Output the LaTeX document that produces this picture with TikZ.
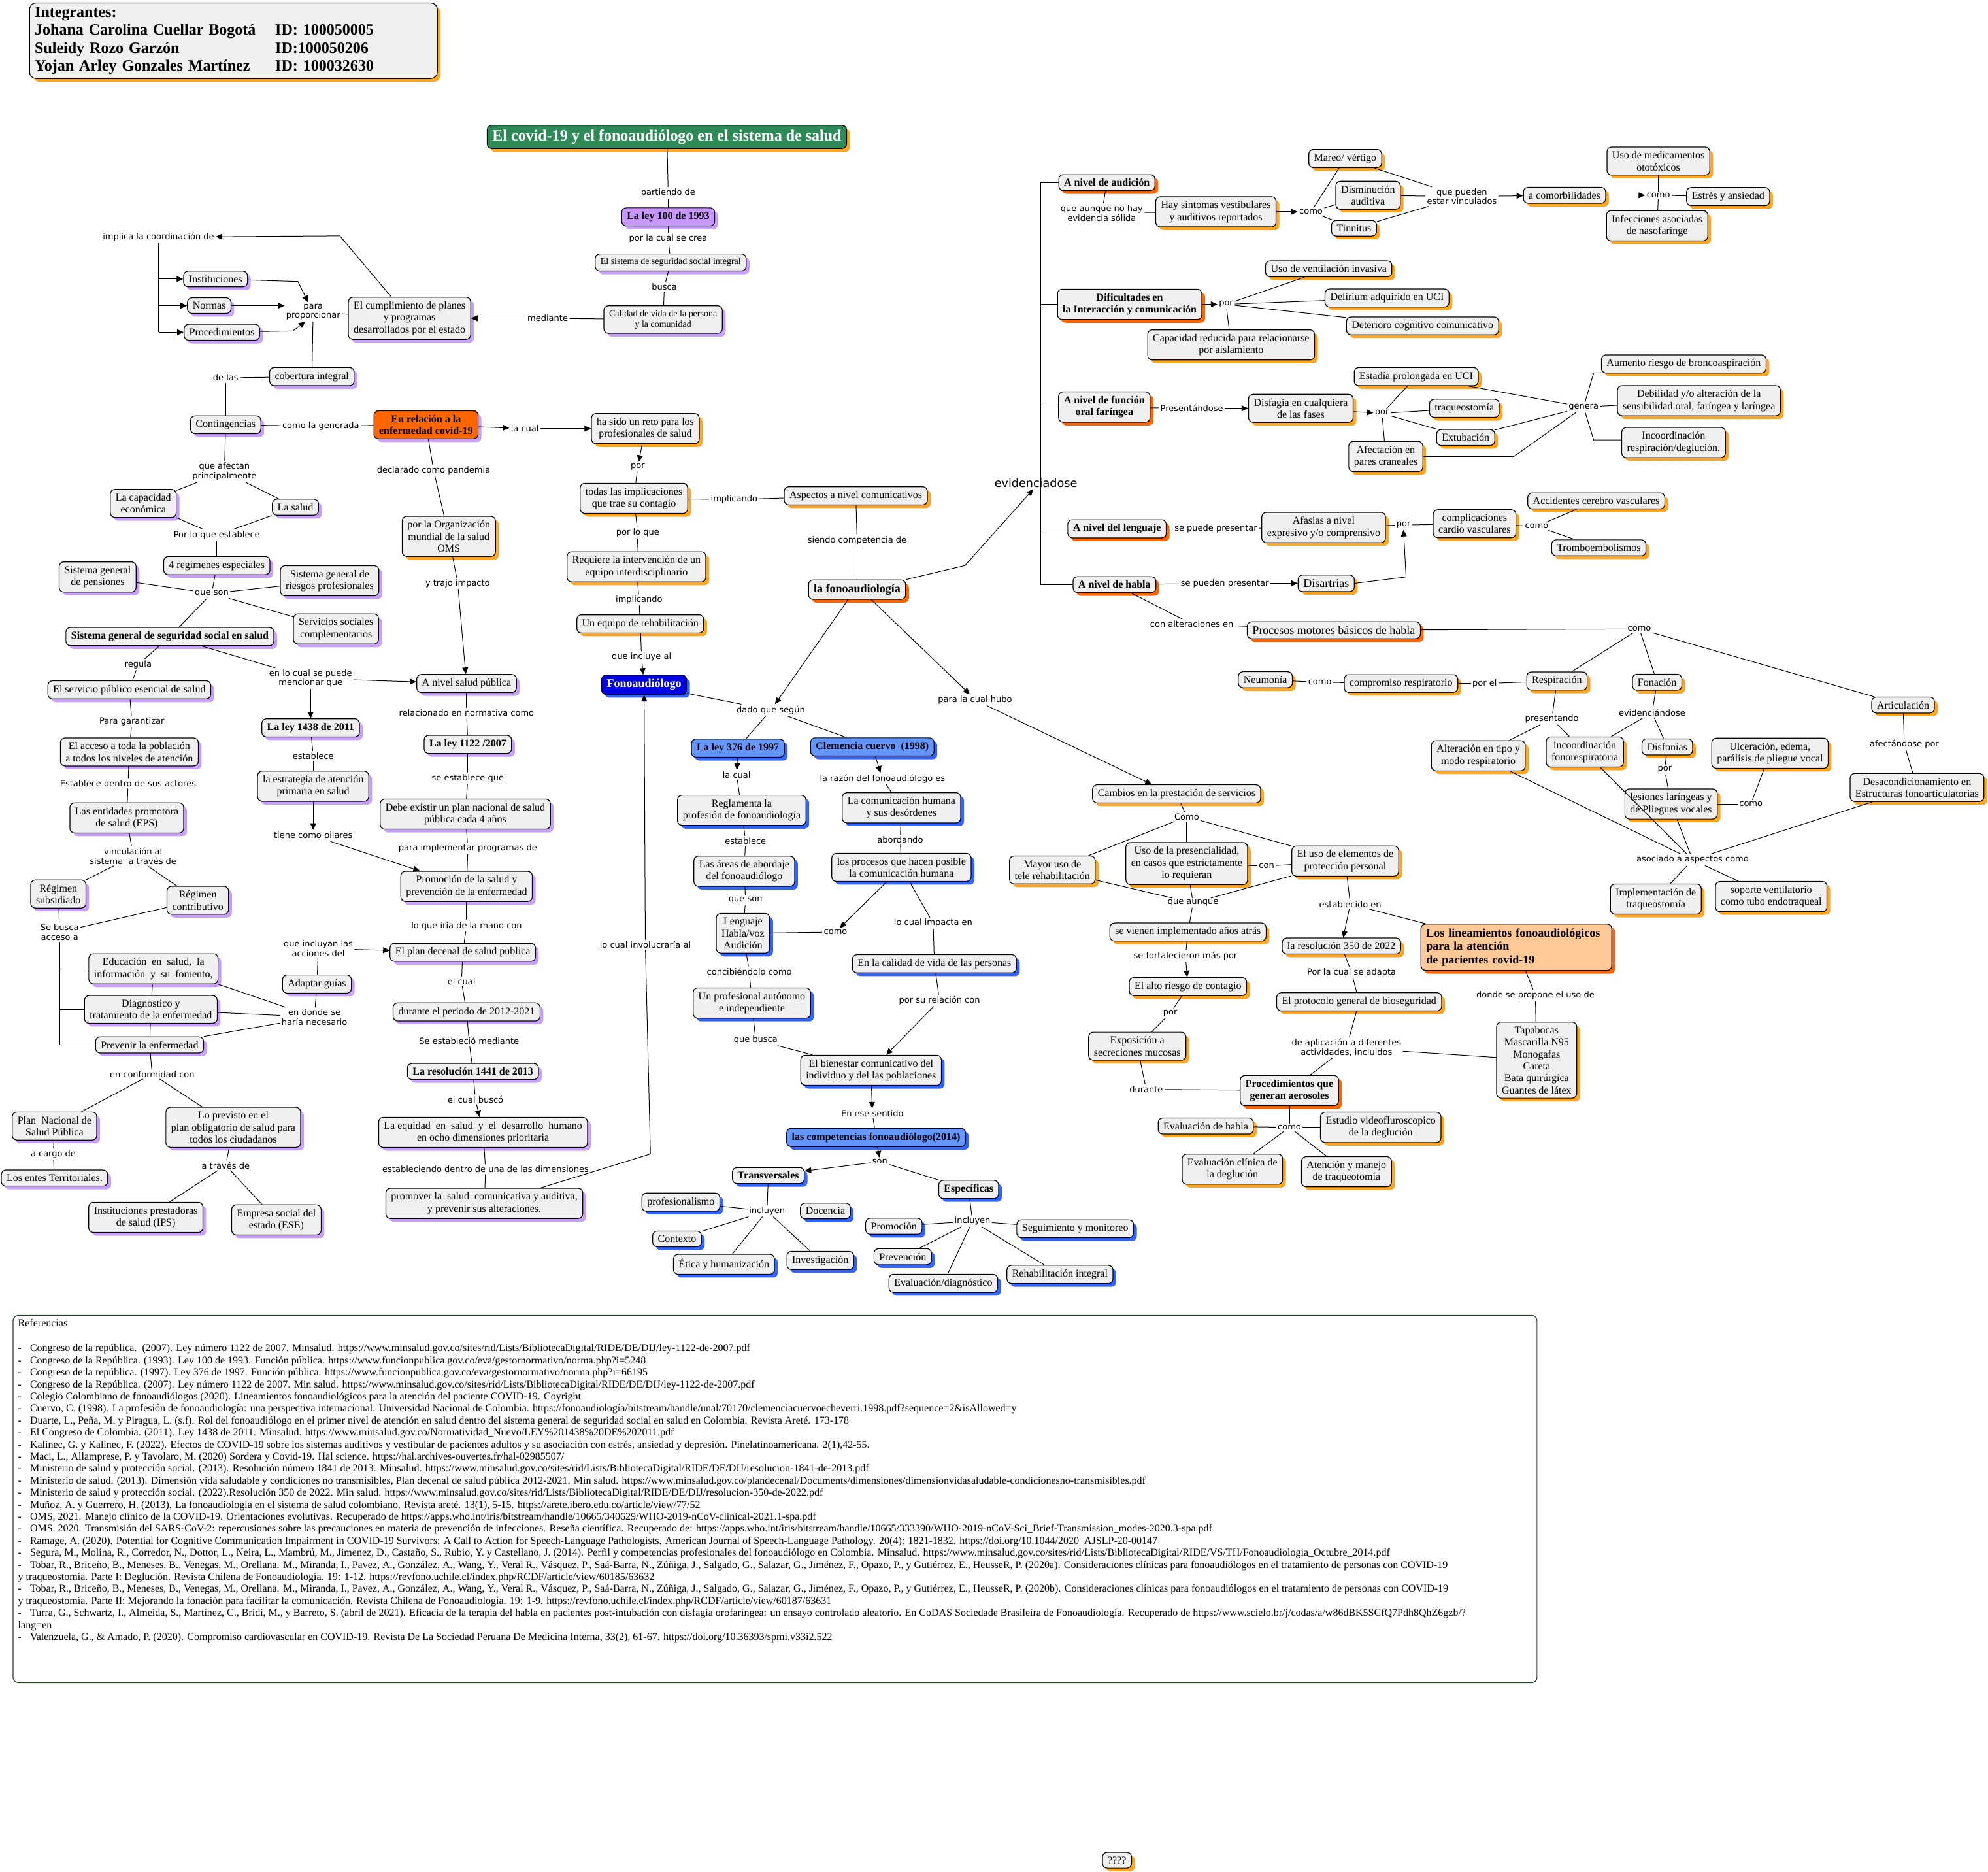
\documentclass[tikz,border=0pt]{standalone}
\usepackage{fontspec}
\setmainfont{Liberation Serif}
\newfontfamily\labfont{DejaVu Sans}
\usetikzlibrary{arrows.meta,shadows}

\definecolor{cfill}{RGB}{240,240,240}
\definecolor{shpurple}{RGB}{200,160,250}
\definecolor{shorange}{RGB}{255,165,30}
\definecolor{shdark}{RGB}{255,100,0}
\definecolor{shblue}{RGB}{50,100,255}
\definecolor{titlegreen}{RGB}{46,139,87}
\definecolor{leyviolet}{RGB}{200,150,255}
\definecolor{covidorange}{RGB}{255,102,0}
\definecolor{fonoblue}{RGB}{0,0,230}
\definecolor{lightblue}{RGB}{100,150,255}
\definecolor{peach}{RGB}{255,200,150}
\definecolor{refgreen}{RGB}{40,70,40}

\tikzset{
  concept/.style={draw, rounded corners=3.5pt, fill=cfill, align=center, line width=0.6pt,
    inner xsep=4pt, inner ysep=3.3pt, font=\fontsize{8}{9.2}\selectfont},
  pc/.style={concept, general shadow={fill=shpurple, shadow xshift=2.5pt, shadow yshift=-2.5pt}},
  oc/.style={concept, general shadow={fill=shorange, shadow xshift=2.5pt, shadow yshift=-2.5pt}},
  dc/.style={concept, general shadow={fill=shdark, shadow xshift=2.5pt, shadow yshift=-2.5pt}},
  bc/.style={concept, general shadow={fill=shblue, shadow xshift=2.5pt, shadow yshift=-2.5pt}},
  hb/.style={font=\fontsize{8}{9.2}\selectfont\bfseries},
  sm/.style={font=\fontsize{7}{8.2}\selectfont},
  big/.style={font=\fontsize{9}{10.3}\selectfont},
  lab/.style={font=\labfont\fontsize{6.5}{7.4}\selectfont, align=center, inner sep=1pt},
  arr/.style={-{Triangle[length=5pt,width=4.5pt]}}
}

\begin{document}
\begin{tikzpicture}[x=0.9701pt, y=-0.9701pt, line width=0.5pt]
\useasboundingbox (0,0) rectangle (1568,1476);

\node[oc, anchor=north west, align=left, text width=304pt, rounded corners=5pt, font=\fontsize{12}{13.6}\selectfont\bfseries] (team) at (23,2)
  {Integrantes:\\
   \makebox[184pt][l]{Johana Carolina Cuellar Bogotá}ID: 100050005\\
   \makebox[184pt][l]{Suleidy Rozo Garzón}ID:100050206\\
   \makebox[184pt][l]{Yojan Arley Gonzales Martínez}ID: 100032630};

\node[oc, fill=titlegreen, text=white, font=\fontsize{12}{14}\selectfont\bfseries] (title) at (526,108) {El covid-19 y el fonoaudiólogo en el sistema de salud};

% left column
\node[pc, hb, fill=leyviolet] (ley100) at (527,171) {La ley 100 de 1993};
\node[pc, sm] (sssi) at (529,207) {El sistema de seguridad social integral};
\node[pc, sm] (calidad) at (523,252) {Calidad de vida de la persona\\y la comunidad};
\node[pc] (cumpl) at (323,251) {El cumplimiento de planes\\y programas\\desarrollados por el estado};
\node[pc] (inst) at (170,220) {Instituciones};
\node[pc] (normas) at (165,241) {Normas};
\node[pc] (proc) at (175,262) {Procedimientos};
\node[pc] (cob) at (246,297) {cobertura integral};
\node[pc] (cont) at (178,335) {Contingencias};
\node[pc, hb, fill=covidorange] (enrel) at (336,335) {En relación a la\\enfermedad covid-19};
\node[pc] (capec) at (113,397) {La capacidad\\económica};
\node[pc] (saludn) at (233,400) {La salud};
\node[pc] (reg4) at (171,446) {4 regímenes especiales};
\node[pc] (pens) at (77,455) {Sistema general\\de pensiones};
\node[pc] (riesg) at (260,458) {Sistema general de\\riesgos profesionales};
\node[pc] (serv) at (265,496) {Servicios sociales\\complementarios};
\node[pc, hb] (sgsss) at (134,502) {Sistema general de seguridad social en salud};
\node[pc] (servpub) at (102,544) {El servicio público esencial de salud};
\node[pc] (acceso) at (102,593) {El acceso a toda la población\\a todos los niveles de atención};
\node[pc] (eps) at (100,645) {Las entidades promotora\\de salud (EPS)};
\node[pc] (regsub) at (46,705) {Régimen\\subsidiado};
\node[pc] (regcon) at (156,710) {Régimen\\contributivo};
\node[pc] (edu) at (121,764) {Educación\ \ en\ \ salud,\ \ la\\información\ \ y\ \ su\ \ fomento,};
\node[pc] (diag) at (119,796) {Diagnostico y\\tratamiento de la enfermedad};
\node[pc] (prev) at (118,824) {Prevenir la enfermedad};
\node[pc] (plannac) at (43,888) {Plan\ \ Nacional de\\Salud Pública};
\node[pc] (loprev) at (184,889) {Lo previsto en el\\plan obligatorio de salud para\\todos los ciudadanos};
\node[pc] (entes) at (43,929) {Los entes Territoriales.};
\node[pc] (ips) at (115,960) {Instituciones prestadoras\\de salud (IPS)};
\node[pc] (ese) at (218,962) {Empresa social del\\estado (ESE)};
\node[oc] (oms) at (354,423) {por la Organización\\mundial de la salud\\OMS};
\node[pc] (anivel) at (368,539) {A nivel salud pública};
\node[pc, hb] (ley1438) at (245,574) {La ley 1438 de 2011};
\node[pc] (estrat) at (247,620) {la estrategia de atención\\primaria en salud};
\node[pc, hb] (ley1122) at (369,587) {La ley 1122 /2007};
\node[pc] (debe) at (367,642) {Debe existir un plan nacional de salud\\pública cada 4 años};
\node[pc] (promo) at (368,699) {Promoción de la salud y\\prevención de la enfermedad};
\node[pc] (plandec) at (365,751) {El plan decenal de salud publica};
\node[pc] (adapt) at (250,776) {Adaptar guías};
\node[pc] (periodo) at (368,798) {durante el periodo de 2012-2021};
\node[pc, hb] (res1441) at (373,845) {La resolución 1441 de 2013};
\node[pc] (equidad) at (381,893) {La equidad\ \ en\ \ salud\ \ y\ \ el\ \ desarrollo\ \ humano\\en ocho dimensiones prioritaria};
\node[pc] (promover) at (382,949) {promover la\ \ salud\ \ comunicativa y auditiva,\\y prevenir sus alteraciones.};

% center column
\node[oc] (reto) at (509,338) {ha sido un reto para los\\profesionales de salud};
\node[oc] (implic) at (500,393) {todas las implicaciones\\que trae su contagio};
\node[oc] (aspectos) at (675,391) {Aspectos a nivel comunicativos};
\node[oc] (requiere) at (502,447) {Requiere la intervención de un\\equipo interdisciplinario};
\node[oc] (equipo) at (505,492) {Un equipo de rehabilitación};
\node[bc, fill=fonoblue, text=white, font=\fontsize{9}{10.3}\selectfont\bfseries] (fono) at (508,540) {Fonoaudiólogo};
\node[dc, font=\fontsize{9}{10.3}\selectfont\bfseries] (fonologia) at (676,465) {la fonoaudiología};
\node[bc, hb, fill=lightblue] (ley376) at (582,590) {La ley 376 de 1997};
\node[bc, hb, fill=lightblue] (clemencia) at (688,589) {Clemencia cuervo\ \ (1998)};
\node[bc] (reglam) at (585,639) {Reglamenta la\\profesión de fonoaudiología};
\node[bc] (comhum) at (711,637) {La comunicación humana\\y sus desórdenes};
\node[bc] (areas) at (587,687) {Las áreas de abordaje\\del fonoaudiólogo};
\node[bc] (procesos) at (711,684) {los procesos que hacen posible\\la comunicación humana};
\node[bc] (lenghab) at (586,736) {Lenguaje\\Habla/voz\\Audición};
\node[bc] (calvida) at (737,760) {En la calidad de vida de las personas};
\node[bc] (profaut) at (593,791) {Un profesional autónomo\\e independiente};
\node[bc] (bienestar) at (687,844) {El bienestar comunicativo del\\individuo y del las poblaciones};
\node[bc, hb, fill=lightblue] (compet) at (691,897) {las competencias fonoaudiólogo(2014)};
\node[bc, hb] (transv) at (606,927) {Transversales};
\node[bc, hb] (espec) at (764,938) {Específicas};
\node[bc] (profes) at (537,948) {profesionalismo};
\node[bc] (docencia) at (651,955) {Docencia};
\node[bc] (contexto) at (534,977) {Contexto};
\node[bc] (etica) at (571,997) {Ética y humanización};
\node[bc] (invest) at (647,994) {Investigación};
\node[bc] (promoc) at (705,967) {Promoción};
\node[bc] (prevenc) at (712,991) {Prevención};
\node[bc] (evaldiag) at (744,1012) {Evaluación/diagnóstico};
\node[bc] (seguim) at (848,969) {Seguimiento y monitoreo};
\node[bc] (rehab) at (836,1005) {Rehabilitación integral};

% right column
\node[dc, hb] (audic) at (873,144) {A nivel de audición};
\node[oc] (haysint) at (959,167) {Hay síntomas vestibulares\\y auditivos reportados};
\node[oc] (mareo) at (1061,125) {Mareo/ vértigo};
\node[oc] (dismin) at (1079,154) {Disminución\\auditiva};
\node[oc] (tinnitus) at (1068,180) {Tinnitus};
\node[oc] (comorb) at (1234,154) {a comorbilidades};
\node[oc] (medic) at (1308,127) {Uso de medicamentos\\ototóxicos};
\node[oc] (estres) at (1363,155) {Estrés y ansiedad};
\node[oc] (infec) at (1307,178) {Infecciones asociadas\\de nasofaringe};
\node[dc, hb] (dific) at (891,240) {Dificultades en\\la Interacción y comunicación};
\node[oc] (vent) at (1048,212) {Uso de ventilación invasiva};
\node[oc] (delir) at (1094,235) {Delirium adquirido en UCI};
\node[oc] (deter) at (1122,257) {Deterioro cognitivo comunicativo};
\node[oc] (capred) at (971,272) {Capacidad reducida para relacionarse\\por aislamiento};
\node[dc, hb] (funcion) at (871,321) {A nivel de función\\oral faríngea};
\node[oc] (disfagia) at (1026,322) {Disfagia en cualquiera\\de las fases};
\node[oc] (estadia) at (1117,297) {Estadía prolongada en UCI};
\node[oc] (traq) at (1155,322) {traqueostomía};
\node[oc] (extub) at (1156,345) {Extubación};
\node[oc] (afect) at (1093,360) {Afectación en\\pares craneales};
\node[oc] (aument) at (1328,287) {Aumento riesgo de broncoaspiración};
\node[oc] (debil) at (1340,316) {Debilidad y/o alteración de la\\sensibilidad oral, faríngea y laríngea};
\node[oc] (incoord) at (1320,349) {Incoordinación\\respiración/deglución.};
\node[dc, hb] (leng) at (881,417) {A nivel del lenguaje};
\node[oc] (afasias) at (1044,416) {Afasias a nivel\\expresivo y/o comprensivo};
\node[oc] (complic) at (1163,413) {complicaciones\\cardio vasculares};
\node[oc] (acv) at (1259,395) {Accidentes cerebro vasculares};
\node[oc] (trombo) at (1261,432) {Tromboembolismos};
\node[dc, hb] (habla) at (879,461) {A nivel de habla};
\node[oc, big] (disart) at (1046,460) {Disartrias};
\node[dc, big] (procmot) at (1052,497) {Procesos motores básicos de habla};
\node[oc] (resp) at (1228,537) {Respiración};
\node[oc] (fonac) at (1307,538) {Fonación};
\node[oc] (artic) at (1501,556) {Articulación};
\node[oc] (comprresp) at (1105,539) {compromiso respiratorio};
\node[oc] (neumo) at (998,536) {Neumonía};
\node[oc] (alttipo) at (1166,596) {Alteración en tipo y\\modo respiratorio};
\node[oc] (incfon) at (1250,593) {incoordinación\\fonorespiratoria};
\node[oc] (disfon) at (1315,589) {Disfonías};
\node[oc] (ulcer) at (1396,594) {Ulceración, edema,\\parálisis de pliegue vocal};
\node[oc] (desacond) at (1512,621) {Desacondicionamiento en\\Estructuras fonoarticulatorias};
\node[oc] (lesiones) at (1318,634) {lesiones laríngeas y\\de Pliegues vocales};
\node[oc] (impltraq) at (1306,709) {Implementación de\\traqueostomía};
\node[oc] (soporte) at (1397,707) {soporte ventilatorio\\como tubo endotraqueal};
\node[oc] (cambios) at (928,626) {Cambios en la prestación de servicios};
\node[oc] (mayor) at (830,686) {Mayor uso de\\tele rehabilitación};
\node[oc] (presenc) at (936,681) {Uso de la presencialidad,\\en casos que estrictamente\\lo requieran};
\node[oc] (epp) at (1061,679) {El uso de elementos de\\protección personal};
\node[oc] (vienen) at (937,735) {se vienen implementado años atrás};
\node[oc] (altoriesgo) at (937,778) {El alto riesgo de contagio};
\node[oc] (expos) at (897,825) {Exposición a\\secreciones mucosas};
\node[dc, hb] (procaer) at (1017,860) {Procedimientos que\\generan aerosoles};
\node[oc] (evalhab) at (951,888) {Evaluación de habla};
\node[oc] (estudio) at (1089,889) {Estudio videofluroscopico\\de la deglución};
\node[oc] (evalclin) at (972,922) {Evaluación clínica de\\la deglución};
\node[oc] (atenc) at (1062,924) {Atención y manejo\\de traqueotomía};
\node[oc] (res350) at (1058,746) {la resolución 350 de 2022};
\node[oc] (protocolo) at (1072,790) {El protocolo general de bioseguridad};
\node[dc, fill=peach, align=left, text width=138pt, font=\fontsize{9}{10.3}\selectfont\bfseries] (lineam) at (1196,747) {Los lineamientos fonoaudiológicos\\para la atención\\de pacientes covid-19};
\node[oc] (tapabocas) at (1212,836) {Tapabocas\\Mascarilla N95\\Monogafas\\Careta\\Bata quirúrgica\\Guantes de látex};
\node[oc] (qmarks) at (881,1467) {????};

% link labels
\node[lab] (lPart) at (527,152) {partiendo de};
\node[lab] (lCrea) at (527,188) {por la cual se crea};
\node[lab] (lBusca) at (524,226) {busca};
\node[lab] (lMediante) at (432,251) {mediante};
\node[lab] (lImplica) at (125,187) {implica la coordinación de};
\node[lab] (lPara) at (247,246) {para\\proporcionar};
\node[lab] (lDeLas) at (178,298) {de las};
\node[lab] (lGenerada) at (253,336) {como la generada};
\node[lab] (lLaCual) at (414,338) {la cual};
\node[lab] (lAfectan) at (177,372) {que afectan\\principalmente};
\node[lab] (lEstablece) at (171,422) {Por lo que establece};
\node[lab] (lQueSon) at (167,468) {que son};
\node[lab] (lPandemia) at (342,371) {declarado como pandemia};
\node[lab] (lImpacto) at (361,460) {y trajo impacto};
\node[lab] (lRegula) at (109,524) {regula};
\node[lab] (lMencionar) at (245,535) {en lo cual se puede\\mencionar que};
\node[lab] (lGarant) at (104,569) {Para garantizar};
\node[lab] (lActores) at (101,618) {Establece dentro de sus actores};
\node[lab] (lVincul) at (105,675) {vinculación al\\sistema\ \ a través de};
\node[lab] (lBusca2) at (47,735) {Se busca\\acceso a};
\node[lab] (lDonde) at (248,802) {en donde se\\haría necesario};
\node[lab] (lIncluyan) at (251,748) {que incluyan las\\acciones del};
\node[lab] (lConform) at (120,847) {en conformidad con};
\node[lab] (lCargo) at (42,910) {a cargo de};
\node[lab] (lTraves) at (178,919) {a través de};
\node[lab] (lRelac) at (368,562) {relacionado en normativa como};
\node[lab] (lEstQue) at (369,614) {se establece que};
\node[lab] (lEstab2) at (247,596) {establece};
\node[lab] (lPilares) at (247,659) {tiene como pilares};
\node[lab] (lImplProg) at (369,669) {para implementar programas de};
\node[lab] (lMano) at (368,730) {lo que iría de la mano con};
\node[lab] (lElCual) at (364,774) {el cual};
\node[lab] (lMediante2) at (370,821) {Se estableció mediante};
\node[lab] (lBusco) at (375,867) {el cual buscó};
\node[lab] (lDimens) at (383,922) {estableciendo dentro de una de las dimensiones};
\node[lab] (lInvol) at (509,745) {lo cual involucraría al};
\node[lab] (lPor) at (503,368) {por};
\node[lab] (lImplicando) at (579,394) {implicando};
\node[lab] (lPorLoQue) at (503,420) {por lo que};
\node[lab] (lImplicando2) at (504,473) {implicando};
\node[lab] (lIncluye) at (506,518) {que incluye al};
\node[lab] (lCompet) at (676,426) {siendo competencia de};
\node[lab, font=\labfont\fontsize{8.8}{9.4}\selectfont] (lEvid) at (817,381) {evidenciadose};
\node[lab] (lDado) at (608,560) {dado que según};
\node[lab] (lHubo) at (769,552) {para la cual hubo};
\node[lab] (lLaCual2) at (581,611) {la cual};
\node[lab] (lRazon) at (696,614) {la razón del fonoaudiólogo es};
\node[lab] (lEstab3) at (588,663) {establece};
\node[lab] (lAbord) at (710,662) {abordando};
\node[lab] (lQueSon2) at (588,710) {que son};
\node[lab] (lComoL) at (659,735) {como};
\node[lab] (lImpacta) at (736,728) {lo cual impacta en};
\node[lab] (lConcib) at (591,766) {concibiéndolo como};
\node[lab] (lRelacion) at (741,789) {por su relación con};
\node[lab] (lBusca3) at (596,820) {que busca};
\node[lab] (lSentido) at (688,878) {En ese sentido};
\node[lab] (lSon) at (694,916) {son};
\node[lab] (lIncl1) at (605,955) {incluyen};
\node[lab] (lIncl2) at (767,963) {incluyen};
\node[lab] (lAunque) at (869,168) {que aunque no hay\\evidencia sólida};
\node[lab] (lComo1) at (1034,167) {como};
\node[lab] (lVinc) at (1153,155) {que pueden\\estar vinculados};
\node[lab] (lComo2) at (1308,154) {como};
\node[lab] (lPor1) at (967,240) {por};
\node[lab] (lPres) at (940,322) {Presentándose};
\node[lab] (lPor2) at (1090,326) {por};
\node[lab] (lGenera) at (1249,321) {genera};
\node[lab] (lPuede) at (959,417) {se puede presentar};
\node[lab] (lPor3) at (1107,414) {por};
\node[lab] (lComo3) at (1212,415) {como};
\node[lab] (lPueden) at (966,460) {se pueden presentar};
\node[lab] (lAlter) at (940,492) {con alteraciones en};
\node[lab] (lComo4) at (1293,496) {como};
\node[lab] (lPorEl) at (1171,539) {por el};
\node[lab] (lComo5) at (1041,538) {como};
\node[lab] (lPresentando) at (1224,567) {presentando};
\node[lab] (lEvidenc) at (1303,562) {evidenciándose};
\node[lab] (lAfectandose) at (1502,587) {afectándose por};
\node[lab] (lPor4) at (1313,607) {por};
\node[lab] (lComo6) at (1381,634) {como};
\node[lab] (lAsociado) at (1335,678) {asociado a aspectos como};
\node[lab] (lComoC) at (936,644) {Como};
\node[lab] (lCon) at (999,683) {con};
\node[lab] (lAunque2) at (941,712) {que aunque};
\node[lab] (lFortal) at (935,754) {se fortalecieron más por};
\node[lab] (lPor5) at (923,799) {por};
\node[lab] (lDurante) at (904,859) {durante};
\node[lab] (lEstablecido) at (1065,713) {establecido en};
\node[lab] (lAdapta) at (1066,767) {Por la cual se adapta};
\node[lab] (lAplic) at (1062,826) {de aplicación a diferentes\\actividades, incluidos};
\node[lab] (lPropone) at (1211,785) {donde se propone el uso de};
\node[lab] (lComo7) at (1017,889) {como};

\coordinate (cImp) at (268,186);
\coordinate (cInst) at (235,222);
\coordinate (cProc) at (231,261);
\coordinate (cInv) at (513,910);
\coordinate (cEvid) at (761,446);
\coordinate (cDis) at (1109,455);
\coordinate (cAfect) at (1194,360);
\coordinate (cGenA) at (1257,294);
\coordinate (cGenI) at (1257,347);
\coordinate (cTrunkTop) at (821,144);
\coordinate (cTrunkBot) at (821,461);

% connectors, left
\draw (title) -- (lPart); \draw (lPart) -- (ley100);
\draw (ley100) -- (lCrea); \draw (lCrea) -- (sssi);
\draw (sssi) -- (lBusca); \draw (lBusca) -- (calidad);
\draw (calidad) -- (lMediante); \draw[arr] (lMediante) -- (cumpl);
\draw[arr] ([xshift=-14pt]cumpl.north) -- (cImp) -- (lImplica);
\draw (lImplica) -- (lImplica |- proc);
\draw[arr] (lImplica |- inst) -- (inst);
\draw[arr] (lImplica |- normas) -- (normas);
\draw[arr] (lImplica |- proc) -- (proc);
\draw[arr] (inst) -- (cInst) -- ([xshift=-4pt]lPara.north);
\draw[arr] (normas) -- (normas -| lPara.west);
\draw[arr] (proc) -- (cProc) -- ([xshift=-6pt]lPara.south);
\draw (lPara) -- (cumpl);
\draw (lPara) -- (cob);
\draw (cob) -- (lDeLas); \draw (lDeLas) -- (cont);
\draw (cont) -- (lGenerada); \draw (lGenerada) -- (enrel);
\draw[arr] (enrel) -- (lLaCual); \draw[arr] (lLaCual) -- (reto);
\draw (enrel) -- (lPandemia); \draw (lPandemia) -- (oms);
\draw (oms) -- (lImpacto); \draw[arr] (lImpacto) -- (anivel);
\draw (cont) -- (lAfectan); \draw (lAfectan) -- (capec); \draw (lAfectan) -- (saludn);
\draw (capec) -- (lEstablece); \draw (saludn) -- (lEstablece); \draw (lEstablece) -- (reg4);
\draw (reg4) -- (lQueSon);
\draw (lQueSon) -- (pens); \draw (lQueSon) -- (riesg); \draw (lQueSon) -- (serv); \draw (lQueSon) -- (sgsss);
\draw (sgsss) -- (lRegula); \draw (lRegula) -- (servpub);
\draw (sgsss) -- (lMencionar); \draw[arr] (lMencionar) -- (anivel); \draw[arr] (lMencionar) -- (ley1438);
\draw (servpub) -- (lGarant); \draw (lGarant) -- (acceso);
\draw (acceso) -- (lActores); \draw (lActores) -- (eps);
\draw (eps) -- (lVincul); \draw (lVincul) -- (regsub); \draw (lVincul) -- (regcon);
\draw (regsub) -- (lBusca2); \draw (regcon) -- (lBusca2);
\draw (lBusca2) -- (lBusca2 |- prev) -- (prev);
\draw (lBusca2 |- edu) -- (edu);
\draw (lBusca2 |- diag) -- (diag);
\draw (edu) -- (diag); \draw (diag) -- (prev);
\draw (prev) -- (lConform); \draw (lConform) -- (plannac); \draw (lConform) -- (loprev);
\draw (plannac) -- (lCargo); \draw (lCargo) -- (entes);
\draw (loprev) -- (lTraves); \draw (lTraves) -- (ips); \draw (lTraves) -- (ese);
\draw (lDonde) -- (edu.south east); \draw (lDonde) -- (diag); \draw (lDonde) -- (prev.north east);
\draw (adapt) -- (lDonde); \draw (lIncluyan) -- (adapt); \draw[arr] (lIncluyan) -- (plandec);
\draw (anivel) -- (lRelac); \draw (lRelac) -- (ley1122);
\draw (ley1122) -- (lEstQue); \draw (lEstQue) -- (debe);
\draw (debe) -- (lImplProg); \draw (lImplProg) -- (promo);
\draw (ley1438) -- (lEstab2); \draw (lEstab2) -- (estrat);
\draw[arr] (estrat) -- (lPilares); \draw[arr] (lPilares) -- (promo);
\draw (promo) -- (lMano); \draw (lMano) -- (plandec);
\draw (plandec) -- (lElCual); \draw (lElCual) -- (periodo);
\draw (periodo) -- (lMediante2); \draw (lMediante2) -- (res1441);
\draw (res1441) -- (lBusco); \draw[arr] (lBusco) -- (equidad);
\draw (equidad) -- (lDimens); \draw (lDimens) -- (promover);
\draw ([xshift=43pt]promover.north) -- (cInv) -- (lInvol); \draw[arr] (lInvol) -- (fono);

% connectors, center
\draw[arr] (reto) -- (lPor); \draw (lPor) -- (implic);
\draw (implic) -- (lImplicando); \draw (lImplicando) -- (aspectos);
\draw (implic) -- (lPorLoQue); \draw (lPorLoQue) -- (requiere);
\draw (requiere) -- (lImplicando2); \draw (lImplicando2) -- (equipo);
\draw (equipo) -- (lIncluye); \draw[arr] (lIncluye) -- (fono);
\draw (aspectos) -- (lCompet); \draw (lCompet) -- (fonologia);
\draw[arr] (fonologia.north east) -- (cEvid) -- ([xshift=-2pt]lEvid.south);
\draw[arr] ([xshift=-7pt]fonologia.south) -- (lDado);
\draw (fono) -- (lDado); \draw (lDado) -- (ley376); \draw (lDado) -- (clemencia);
\draw[arr] ([xshift=11pt]fonologia.south) -- ([xshift=-4pt]lHubo.north);
\draw[arr] (lHubo) -- ([xshift=-19pt]cambios.north);
\draw[arr] (ley376) -- (lLaCual2); \draw (lLaCual2) -- (reglam);
\draw (reglam) -- (lEstab3); \draw (lEstab3) -- (areas);
\draw (areas) -- (lQueSon2); \draw (lQueSon2) -- (lenghab);
\draw (lenghab) -- (lConcib); \draw (lConcib) -- (profaut);
\draw (profaut) -- (lBusca3); \draw (lBusca3) -- (bienestar);
\draw[arr] (clemencia) -- (lRazon); \draw (lRazon) -- (comhum);
\draw (comhum) -- (lAbord); \draw (lAbord) -- (procesos);
\draw[arr] (procesos) -- (lComoL); \draw (lenghab) -- (lComoL);
\draw (procesos) -- (lImpacta); \draw (lImpacta) -- (calvida);
\draw (calvida) -- (lRelacion); \draw[arr] (lRelacion) -- (bienestar);
\draw[arr] (bienestar) -- (lSentido); \draw (lSentido) -- (compet);
\draw[arr] (compet) -- (lSon); \draw[arr] (lSon) -- (transv); \draw (lSon) -- (espec);
\draw (transv) -- (lIncl1);
\draw (lIncl1) -- (profes); \draw (lIncl1) -- (docencia); \draw (lIncl1) -- (contexto);
\draw (lIncl1) -- (etica); \draw (lIncl1) -- (invest);
\draw (espec) -- (lIncl2);
\draw (lIncl2) -- (promoc); \draw (lIncl2) -- (prevenc); \draw (lIncl2) -- (evaldiag);
\draw (lIncl2) -- (seguim); \draw (lIncl2) -- (rehab);

% connectors, right
\draw (audic.west) -- (cTrunkTop) -- (cTrunkBot) -- (habla.west);
\draw (cTrunkTop |- dific) -- (dific);
\draw (cTrunkTop |- funcion) -- (funcion);
\draw (cTrunkTop |- leng) -- (leng);
\draw (audic) -- (lAunque); \draw (lAunque) -- (haysint);
\draw[arr] (haysint) -- (lComo1);
\draw (lComo1) -- (mareo); \draw (lComo1) -- (dismin); \draw (lComo1) -- (tinnitus);
\draw (mareo) -- (lVinc); \draw (dismin) -- (lVinc); \draw (tinnitus) -- (lVinc);
\draw[arr] (lVinc) -- (comorb); \draw[arr] (comorb) -- (lComo2);
\draw (lComo2) -- (medic); \draw (lComo2) -- (estres); \draw (lComo2) -- (infec);
\draw[arr] (dific) -- (lPor1);
\draw (lPor1) -- (vent); \draw (lPor1) -- (delir); \draw (lPor1) -- (deter); \draw (lPor1) -- (capred);
\draw (funcion) -- (lPres); \draw[arr] (lPres) -- (disfagia);
\draw[arr] (disfagia) -- (lPor2);
\draw (lPor2) -- (estadia); \draw (lPor2) -- (traq); \draw (lPor2) -- (extub); \draw (lPor2) -- (afect);
\draw (estadia) -- (lGenera); \draw (extub) -- (lGenera);
\draw (afect.east) -- (cAfect) -- (lGenera);
\draw (lGenera) -- (cGenA) -- (aument.west |- cGenA);
\draw (lGenera) -- (debil);
\draw (lGenera) -- (cGenI) -- (incoord.west |- cGenI);
\draw (leng) -- (lPuede); \draw (lPuede) -- (afasias);
\draw (afasias) -- (lPor3); \draw (lPor3) -- (complic);
\draw (complic) -- (lComo3); \draw (lComo3) -- (acv); \draw (lComo3) -- (trombo);
\draw (habla) -- (lPueden); \draw[arr] (lPueden) -- (disart);
\draw[arr] (disart.east) -- (cDis) -- (lPor3.south);
\draw (habla) -- (lAlter); \draw (lAlter) -- (procmot);
\draw (procmot) -- (lComo4);
\draw (lComo4) -- (resp); \draw (lComo4) -- (fonac); \draw (lComo4) -- (artic);
\draw (resp) -- (lPorEl); \draw (lPorEl) -- (comprresp);
\draw (comprresp) -- (lComo5); \draw (lComo5) -- (neumo);
\draw (resp) -- (lPresentando); \draw (lPresentando) -- (alttipo); \draw (lPresentando) -- (incfon);
\draw (fonac) -- (lEvidenc); \draw (lEvidenc) -- (incfon); \draw (lEvidenc) -- (disfon);
\draw (disfon) -- (lPor4); \draw (lPor4) -- (lesiones);
\draw (lesiones) -- (lComo6); \draw (lComo6) -- (ulcer);
\draw (artic) -- (lAfectandose); \draw (lAfectandose) -- (desacond);
\draw (alttipo) -- (lAsociado); \draw (incfon) -- (lAsociado);
\draw (lesiones) -- (lAsociado); \draw (desacond) -- (lAsociado);
\draw (lAsociado) -- (impltraq); \draw (lAsociado) -- (soporte);
\draw (cambios) -- (lComoC);
\draw (lComoC) -- (mayor); \draw (lComoC) -- (presenc); \draw (lComoC) -- (epp);
\draw (presenc) -- (lCon); \draw (lCon) -- (epp);
\draw (mayor) -- (lAunque2); \draw (presenc) -- (lAunque2); \draw (epp) -- (lAunque2);
\draw (lAunque2) -- (vienen);
\draw (vienen) -- (lFortal); \draw[arr] (lFortal) -- (altoriesgo);
\draw (altoriesgo) -- (lPor5); \draw (lPor5) -- (expos);
\draw (expos) -- (lDurante); \draw (lDurante) -- (procaer);
\draw (epp) -- (lEstablecido); \draw[arr] (lEstablecido) -- (res350); \draw (lEstablecido) -- (lineam);
\draw (res350) -- (lAdapta); \draw (lAdapta) -- (protocolo);
\draw (protocolo) -- (lAplic); \draw (lAplic) -- (procaer); \draw (lAplic) -- (tapabocas);
\draw (lineam) -- (lPropone); \draw (lPropone) -- (tapabocas);
\draw (procaer) -- (lComo7);
\draw (lComo7) -- (evalhab); \draw (lComo7) -- (estudio); \draw (lComo7) -- (evalclin); \draw (lComo7) -- (atenc);

% references
\node[draw=refgreen, rounded corners=4pt, line width=0.6pt, anchor=north west, minimum width=1166pt, minimum height=281pt, inner sep=0pt] (refbox) at (10,1037) {};
\node[anchor=north west, align=left, inner sep=1pt, font=\fontsize{8}{9.2}\selectfont] (reflist) at (13,1039)
{Referencias\\[10pt]
-\hspace{6.5pt}Congreso de la república.\ \ (2007). Ley número 1122 de 2007. Minsalud. https://www.minsalud.gov.co/sites/rid/Lists/BibliotecaDigital/RIDE/DE/DIJ/ley-1122-de-2007.pdf\\
-\hspace{6.5pt}Congreso de la República. (1993). Ley 100 de 1993. Función pública. https://www.funcionpublica.gov.co/eva/gestornormativo/norma.php?i=5248\\
-\hspace{6.5pt}Congreso de la república. (1997). Ley 376 de 1997. Función pública. https://www.funcionpublica.gov.co/eva/gestornormativo/norma.php?i=66195\\
-\hspace{6.5pt}Congreso de la República. (2007). Ley número 1122 de 2007. Min salud. https://www.minsalud.gov.co/sites/rid/Lists/BibliotecaDigital/RIDE/DE/DIJ/ley-1122-de-2007.pdf\\
-\hspace{6.5pt}Colegio Colombiano de fonoaudiólogos.(2020). Lineamientos fonoaudiológicos para la atención del paciente COVID-19. Coyright\\
-\hspace{6.5pt}Cuervo, C. (1998). La profesión de fonoaudiología: una perspectiva internacional. Universidad Nacional de Colombia. https://fonoaudiología/bitstream/handle/unal/70170/clemenciacuervoecheverri.1998.pdf?sequence=2\&isAllowed=y\\
-\hspace{6.5pt}Duarte, L., Peña, M. y Piragua, L. (s.f). Rol del fonoaudiólogo en el primer nivel de atención en salud dentro del sistema general de seguridad social en salud en Colombia. Revista Areté. 173-178\\
-\hspace{6.5pt}El Congreso de Colombia. (2011). Ley 1438 de 2011. Minsalud. https://www.minsalud.gov.co/Normatividad\_Nuevo/LEY\%201438\%20DE\%202011.pdf\\
-\hspace{6.5pt}Kalinec, G. y Kalinec, F. (2022). Efectos de COVID-19 sobre los sistemas auditivos y vestibular de pacientes adultos y su asociación con estrés, ansiedad y depresión. Pinelatinoamericana. 2(1),42-55.\\
-\hspace{6.5pt}Maci, L., Allamprese, P. y Tavolaro, M. (2020) Sordera y Covid-19. Hal science. https://hal.archives-ouvertes.fr/hal-02985507/\\
-\hspace{6.5pt}Ministerio de salud y protección social. (2013). Resolución número 1841 de 2013. Minsalud. https://www.minsalud.gov.co/sites/rid/Lists/BibliotecaDigital/RIDE/DE/DIJ/resolucion-1841-de-2013.pdf\\
-\hspace{6.5pt}Ministerio de salud. (2013). Dimensión vida saludable y condiciones no transmisibles, Plan decenal de salud pública 2012-2021. Min salud. https://www.minsalud.gov.co/plandecenal/Documents/dimensiones/dimensionvidasaludable-condicionesno-transmisibles.pdf\\
-\hspace{6.5pt}Ministerio de salud y protección social. (2022).Resolución 350 de 2022. Min salud. https://www.minsalud.gov.co/sites/rid/Lists/BibliotecaDigital/RIDE/DE/DIJ/resolucion-350-de-2022.pdf\\
-\hspace{6.5pt}Muñoz, A. y Guerrero, H. (2013). La fonoaudiología en el sistema de salud colombiano. Revista areté. 13(1), 5-15. https://arete.ibero.edu.co/article/view/77/52\\
-\hspace{6.5pt}OMS, 2021. Manejo clínico de la COVID-19. Orientaciones evolutivas. Recuperado de https://apps.who.int/iris/bitstream/handle/10665/340629/WHO-2019-nCoV-clinical-2021.1-spa.pdf\\
-\hspace{6.5pt}OMS. 2020. Transmisión del SARS-CoV-2: repercusiones sobre las precauciones en materia de prevención de infecciones. Reseña científica. Recuperado de: https://apps.who.int/iris/bitstream/handle/10665/333390/WHO-2019-nCoV-Sci\_Brief-Transmission\_modes-2020.3-spa.pdf\\
-\hspace{6.5pt}Ramage, A. (2020). Potential for Cognitive Communication Impairment in COVID-19 Survivors: A Call to Action for Speech-Language Pathologists. American Journal of Speech-Language Pathology. 20(4): 1821-1832. https://doi.org/10.1044/2020\_AJSLP-20-00147\\
-\hspace{6.5pt}Segura, M., Molina, R., Corredor, N., Dottor, L., Neira, L., Mambrú, M., Jimenez, D., Castaño, S., Rubio, Y. y Castellano, J. (2014). Perfil y competencias profesionales del fonoaudiólogo en Colombia. Minsalud. https://www.minsalud.gov.co/sites/rid/Lists/BibliotecaDigital/RIDE/VS/TH/Fonoaudiologia\_Octubre\_2014.pdf\\
-\hspace{6.5pt}Tobar, R., Briceño, B., Meneses, B., Venegas, M., Orellana. M., Miranda, I., Pavez, A., González, A., Wang, Y., Veral R., Vásquez, P., Saá-Barra, N., Zúñiga, J., Salgado, G., Salazar, G., Jiménez, F., Opazo, P., y Gutiérrez, E., HeusseR, P. (2020a). Consideraciones clínicas para fonoaudiólogos en el tratamiento de personas con COVID-19\\
y traqueostomía. Parte I: Deglución. Revista Chilena de Fonoaudiología. 19: 1-12. https://revfono.uchile.cl/index.php/RCDF/article/view/60185/63632\\
-\hspace{6.5pt}Tobar, R., Briceño, B., Meneses, B., Venegas, M., Orellana. M., Miranda, I., Pavez, A., González, A., Wang, Y., Veral R., Vásquez, P., Saá-Barra, N., Zúñiga, J., Salgado, G., Salazar, G., Jiménez, F., Opazo, P., y Gutiérrez, E., HeusseR, P. (2020b). Consideraciones clínicas para fonoaudiólogos en el tratamiento de personas con COVID-19\\
y traqueostomía. Parte II: Mejorando la fonación para facilitar la comunicación. Revista Chilena de Fonoaudiología. 19: 1-9. https://revfono.uchile.cl/index.php/RCDF/article/view/60187/63631\\
-\hspace{6.5pt}Turra, G., Schwartz, I., Almeida, S., Martínez, C., Bridi, M., y Barreto, S. (abril de 2021). Eficacia de la terapia del habla en pacientes post-intubación con disfagia orofaríngea: un ensayo controlado aleatorio. En CoDAS Sociedade Brasileira de Fonoaudiología. Recuperado de https://www.scielo.br/j/codas/a/w86dBK5SCfQ7Pdh8QhZ6gzb/?\\
lang=en\\
-\hspace{6.5pt}Valenzuela, G., \& Amado, P. (2020). Compromiso cardiovascular en COVID-19. Revista De La Sociedad Peruana De Medicina Interna, 33(2), 61-67. https://doi.org/10.36393/spmi.v33i2.522};
\end{tikzpicture}
\end{document}
